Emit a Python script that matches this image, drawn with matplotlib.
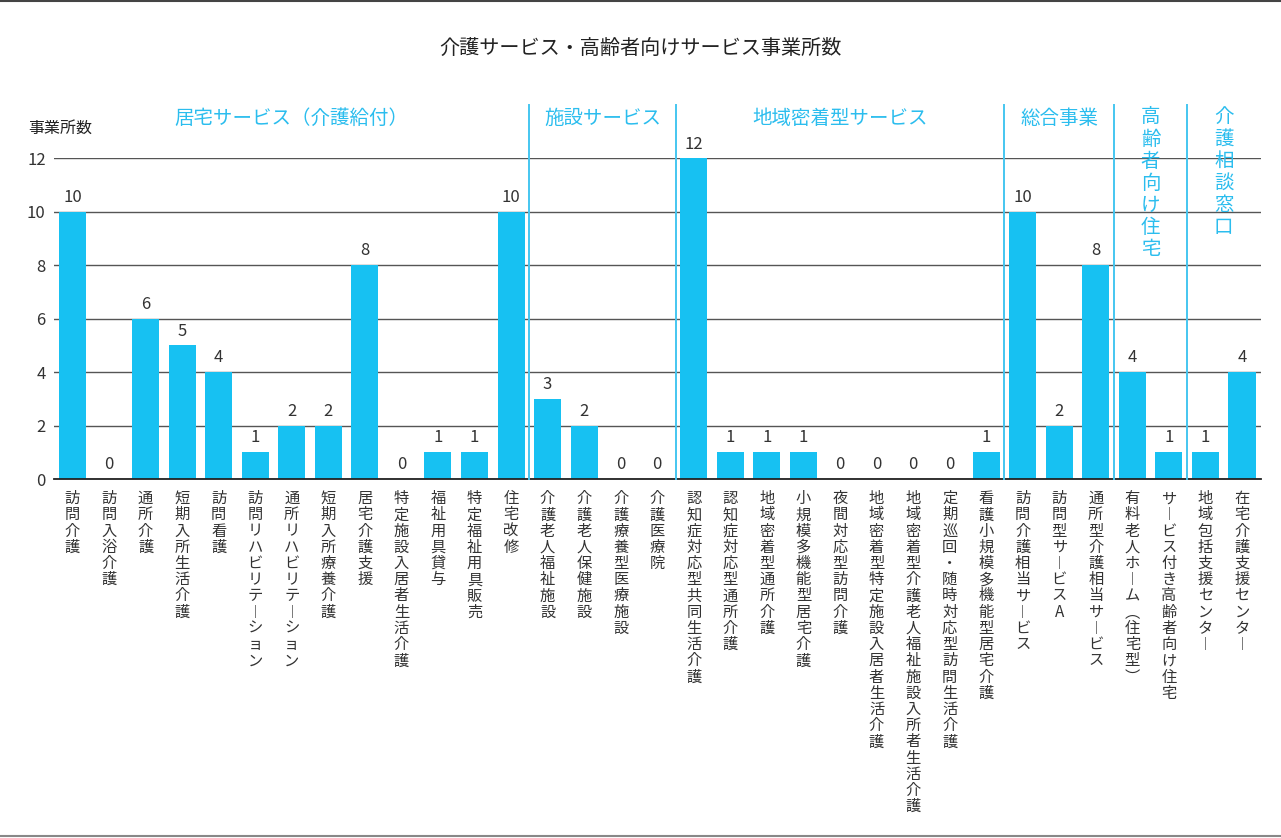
import matplotlib
matplotlib.use("Agg")
import matplotlib.pyplot as plt
from matplotlib.lines import Line2D

plt.rcParams['font.family'] = ['Noto Sans CJK JP', 'DejaVu Sans']

categories = ['訪問介護', '訪問入浴介護', '通所介護', '短期入所生活介護', '訪問看護',
              '訪問リハビリテーション', '通所リハビリテーション', '短期入所療養介護',
              '居宅介護支援', '特定施設入居者生活介護', '福祉用具貸与', '特定福祉用具販売',
              '住宅改修',
              '介護老人福祉施設', '介護老人保健施設', '介護療養型医療施設', '介護医療院',
              '認知症対応型共同生活介護', '認知症対応型通所介護', '地域密着型通所介護',
              '小規模多機能型居宅介護', '夜間対応型訪問介護',
              '地域密着型特定施設入居者生活介護', '地域密着型介護老人福祉施設入所者生活介護',
              '定期巡回・随時対応型訪問生活介護', '看護小規模多機能型居宅介護',
              '訪問介護相当サービス', '訪問型サービスA', '通所型介護相当サービス',
              '有料老人ホーム(住宅型)', 'サービス付き高齢者向け住宅',
              '地域包括支援センター', '在宅介護支援センター']
values = [10, 0, 6, 5, 4, 1, 2, 2, 8, 0, 1, 1, 10,
          3, 2, 0, 0,
          12, 1, 1, 1, 0, 0, 0, 0, 1,
          10, 2, 8,
          4, 1,
          1, 4]

# group names with the index range they cover
group_names = ['居宅サービス（介護給付）', '施設サービス', '地域密着型サービス',
               '総合事業', '高齢者向け住宅', '介護相談窓口']
group_first = [0, 13, 17, 26, 29, 31]
group_last = [12, 16, 25, 28, 30, 32]
group_vertical = [False, False, False, False, True, True]

bar_color = '#17C1F2'
group_color = '#2BBDEE'
sep_color = '#45C6F0'


def tategaki(s):
    # stack characters vertically, with vertical forms for a few signs
    s = s.replace('ー', '︱').replace('(', '︵').replace(')', '︶')
    return '\n'.join(s)


fig = plt.figure(figsize=(12.81, 8.38), dpi=100)
ax = fig.add_axes([54 / 1281, 1 - 479 / 838, 1207 / 1281, 320.5 / 838])

x_pos = list(range(len(categories)))
ax.bar(x_pos, values, width=0.74, color=bar_color, zorder=3)

for x, v in zip(x_pos, values):
    ax.text(x, v + 0.22, str(v), ha='center', va='bottom', fontsize=12, color='#333333')

ax.set_xlim(-0.506, 32.52)
ax.set_ylim(0, 12)
ax.set_yticks(range(0, 13, 2))
ax.grid(axis='y', color='#555555', linewidth=1.0, zorder=0)
ax.tick_params(axis='y', length=0, pad=6, labelsize=12, labelcolor='#333333')
ax.tick_params(axis='x', length=0, pad=8)
ax.set_xticks(x_pos)
ax.set_xticklabels([tategaki(c) for c in categories], fontsize=11,
                   color='#333333', va='top', linespacing=0.94)
for s in ['left', 'right', 'top']:
    ax.spines[s].set_visible(False)
ax.spines['bottom'].set_color('#222222')
ax.spines['bottom'].set_linewidth(1.3)
ax.spines['bottom'].set_zorder(4)

# group separators and names
for i in range(1, len(group_first)):
    sx = group_first[i] - 0.5
    ax.plot([sx, sx], [0, 14], color=sep_color, linewidth=1.4,
            clip_on=False, zorder=5)

for name, a, b, vert in zip(group_names, group_first, group_last, group_vertical):
    cx = (a + b) / 2
    if vert:
        ax.text(cx, 13.95, tategaki(name), ha='center', va='top', fontsize=14,
                color=group_color, linespacing=1.07, clip_on=False, zorder=6)
    else:
        ax.text(cx, 13.5, name, ha='center', va='center', fontsize=14,
                color=group_color, clip_on=False)

fig.text(0.5, 1 - 48 / 838, '介護サービス・高齢者向けサービス事業所数',
         ha='center', va='center', fontsize=14.5, color='#222222')
fig.text(28 / 1281, 1 - 128 / 838, '事業所数', ha='left', va='center',
         fontsize=11.5, color='#222222')

# frame lines at top and bottom of the picture
fig.add_artist(Line2D([0, 1], [1 - 1 / 838, 1 - 1 / 838], color='#444444', linewidth=1.5))
fig.add_artist(Line2D([0, 1], [2 / 838, 2 / 838], color='#888888', linewidth=1.5))

fig.savefig('out.png', dpi=100)
